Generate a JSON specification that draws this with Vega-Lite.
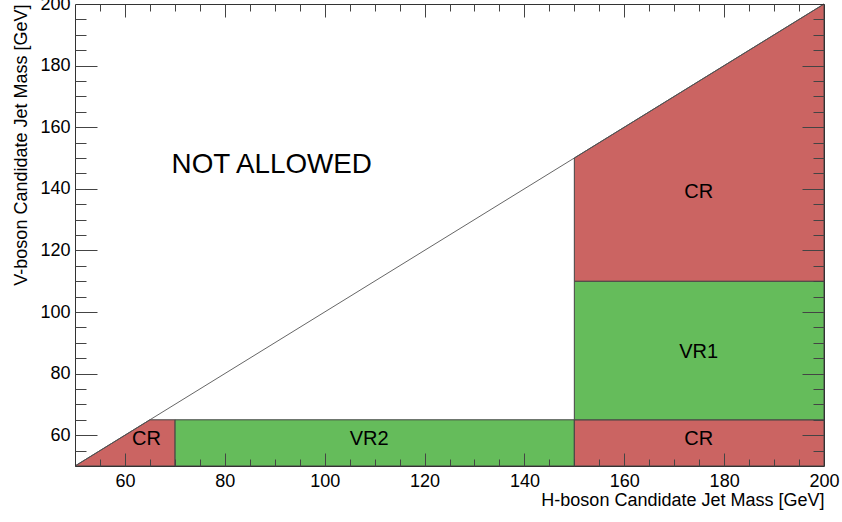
{
  "$schema": "https://vega.github.io/schema/vega-lite/v6.json",
  "width": 749,
  "height": 462,
  "autosize": {"type": "none"},
  "padding": {"left": 75, "top": 4, "right": 18, "bottom": 56},
  "background": "white",
  "config": {
    "view": {"stroke": null},
    "axis": {"labelFont": "Liberation Sans", "titleFont": "Liberation Sans", "grid": false}
  },
  "datasets": {
    "rects": [
      {"region": "VR2", "kind": "VR", "h": 70, "h2": 150, "v": 50, "v2": 65},
      {"region": "CR", "kind": "CR", "h": 150, "h2": 200, "v": 50, "v2": 65},
      {"region": "VR1", "kind": "VR", "h": 150, "h2": 200, "v": 65, "v2": 110}
    ],
    "areas": [
      {"part": "top", "kind": "CR", "h": 150, "v": 110, "v2": 150},
      {"part": "top", "kind": "CR", "h": 200, "v": 110, "v2": 200},
      {"part": "corner", "kind": "CR", "h": 50, "v": 50, "v2": 50},
      {"part": "corner", "kind": "CR", "h": 65, "v": 50, "v2": 65},
      {"part": "corner", "kind": "CR", "h": 70, "v": 50, "v2": 65}
    ],
    "diagonal": [
      {"h": 50, "v": 50},
      {"h": 200, "v": 200}
    ],
    "labels": [
      {"label": "CR", "h": 64.3, "v": 56.7},
      {"label": "VR2", "h": 108.9, "v": 56.7},
      {"label": "CR", "h": 174.9, "v": 56.7},
      {"label": "VR1", "h": 174.9, "v": 85.2},
      {"label": "CR", "h": 174.9, "v": 137}
    ],
    "note": [
      {"label": "NOT ALLOWED", "h": 89.4, "v": 145.2}
    ]
  },
  "layer": [
    {
      "data": {"name": "rects"},
      "mark": {"type": "rect", "stroke": "#444", "strokeWidth": 1},
      "encoding": {
        "x": {"field": "h", "type": "quantitative",
          "scale": {"domain": [50, 200], "nice": false, "zero": false},
          "axis": {"orient": "bottom", "values": [60, 80, 100, 120, 140, 160, 180, 200],
            "ticks": false, "domain": true, "domainColor": "#333", "domainWidth": 1,
            "labelFontSize": 18, "labelColor": "black", "labelPadding": 6,
            "labelFlush": false, "labelOverlap": false,
            "title": "H-boson Candidate Jet Mass [GeV]", "titleFontSize": 18, "titleFontWeight": "normal",
            "titleColor": "black", "titleAnchor": "end", "titleAlign": "right", "titleBaseline": "alphabetic",
            "titleY": 39, "zindex": 1}},
        "x2": {"field": "h2"},
        "y": {"field": "v", "type": "quantitative",
          "scale": {"domain": [50, 200], "nice": false, "zero": false},
          "axis": {"orient": "left", "values": [60, 80, 100, 120, 140, 160, 180, 200],
            "ticks": false, "domain": true, "domainColor": "#333", "domainWidth": 1,
            "labelFontSize": 18, "labelColor": "black", "labelPadding": 5,
            "labelFlush": false, "labelOverlap": false,
            "title": "V-boson Candidate Jet Mass [GeV]", "titleFontSize": 18, "titleFontWeight": "normal",
            "titleColor": "black", "titleAnchor": "end", "titleAlign": "right", "titleBaseline": "alphabetic",
            "titleAngle": 270, "titleX": -49, "titleY": 0, "zindex": 1}},
        "y2": {"field": "v2"},
        "fill": {"field": "kind", "type": "nominal",
          "scale": {"domain": ["CR", "VR"], "range": ["#cb6462", "#65bc5b"]}, "legend": null}
      }
    },
    {
      "data": {"name": "areas"},
      "mark": {"type": "area", "stroke": "#444", "strokeWidth": 1},
      "encoding": {
        "x": {"field": "h", "type": "quantitative",
          "axis": {"orient": "bottom", "values": [60, 80, 100, 120, 140, 160, 180],
            "labels": false, "domain": false, "tickSize": -13, "tickColor": "#444", "tickWidth": 1,
            "title": null, "zindex": 1}},
        "y": {"field": "v", "type": "quantitative",
          "axis": {"orient": "left", "values": [60, 80, 100, 120, 140, 160, 180],
            "labels": false, "domain": false, "tickSize": -22, "tickColor": "#444", "tickWidth": 1,
            "title": null, "zindex": 1}},
        "y2": {"field": "v2"},
        "detail": {"field": "part"},
        "fill": {"field": "kind", "type": "nominal", "legend": null}
      }
    },
    {
      "data": {"name": "diagonal"},
      "mark": {"type": "line", "stroke": "#555", "strokeWidth": 0.9},
      "encoding": {
        "x": {"field": "h", "type": "quantitative",
          "axis": {"orient": "top", "values": [60, 80, 100, 120, 140, 160, 180],
            "labels": false, "domain": true, "domainColor": "#333", "domainWidth": 1,
            "tickSize": -13, "tickColor": "#444", "tickWidth": 1,
            "title": null, "zindex": 1}},
        "y": {"field": "v", "type": "quantitative",
          "axis": {"orient": "right", "values": [60, 80, 100, 120, 140, 160, 180],
            "labels": false, "domain": true, "domainColor": "#333", "domainWidth": 1,
            "tickSize": -22, "tickColor": "#444", "tickWidth": 1,
            "title": null, "zindex": 1}}
      }
    },
    {
      "data": {"name": "labels"},
      "mark": {"type": "text", "font": "Liberation Sans", "fontSize": 20, "color": "black",
        "align": "center", "baseline": "alphabetic"},
      "encoding": {
        "x": {"field": "h", "type": "quantitative",
          "axis": {"orient": "top", "values": [55, 65, 70, 75, 85, 90, 95, 105, 110, 115, 125, 130, 135, 145, 150, 155, 165, 170, 175, 185, 190, 195],
            "labels": false, "domain": false, "tickSize": -7, "tickColor": "#444", "tickWidth": 1,
            "title": null, "zindex": 1}},
        "y": {"field": "v", "type": "quantitative",
          "axis": {"orient": "right", "values": [55, 65, 70, 75, 85, 90, 95, 105, 110, 115, 125, 130, 135, 145, 150, 155, 165, 170, 175, 185, 190, 195],
            "labels": false, "domain": false, "tickSize": -11, "tickColor": "#444", "tickWidth": 1,
            "title": null, "zindex": 1}},
        "text": {"field": "label"}
      }
    },
    {
      "data": {"name": "note"},
      "mark": {"type": "text", "font": "Liberation Sans", "fontSize": 27.8, "color": "black",
        "align": "center", "baseline": "alphabetic"},
      "encoding": {
        "x": {"field": "h", "type": "quantitative",
          "axis": {"orient": "bottom", "values": [55, 65, 70, 75, 85, 90, 95, 105, 110, 115, 125, 130, 135, 145, 150, 155, 165, 170, 175, 185, 190, 195],
            "labels": false, "domain": false, "tickSize": -7, "tickColor": "#444", "tickWidth": 1,
            "title": null, "zindex": 1}},
        "y": {"field": "v", "type": "quantitative",
          "axis": {"orient": "left", "values": [55, 65, 70, 75, 85, 90, 95, 105, 110, 115, 125, 130, 135, 145, 150, 155, 165, 170, 175, 185, 190, 195],
            "labels": false, "domain": false, "tickSize": -11, "tickColor": "#444", "tickWidth": 1,
            "title": null, "zindex": 1}},
        "text": {"field": "label"}
      }
    }
  ],
  "resolve": {"axis": {"x": "independent", "y": "independent"}}
}
